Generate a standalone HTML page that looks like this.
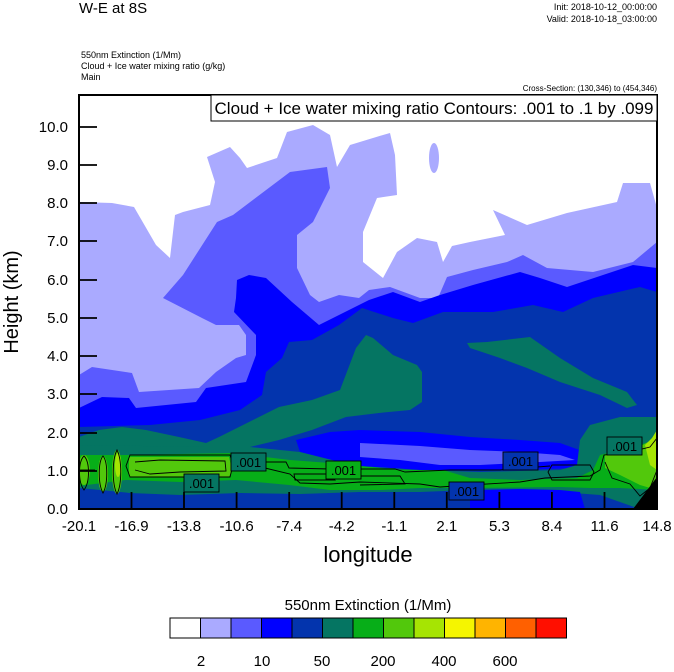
<!DOCTYPE html>
<html><head><style>
body{margin:0;background:#fff;}
svg text{font-family:"Liberation Sans",sans-serif;}
</style></head><body>
<svg width="674" height="667" viewBox="0 0 674 667" xmlns="http://www.w3.org/2000/svg">
<defs><clipPath id="c"><rect x="79" y="95" width="578" height="414"/></clipPath></defs>
<g clip-path="url(#c)">
<rect x="79" y="95" width="578" height="414" fill="#fff"/>
<!-- lavender -->
<polygon fill="#AAAAFF" points="79,202 112,203 134,207 156,245 170,258 175,215 183,212 210,205 215,182 207,157 230,147 240,158 247,168 277,158 287,132 313,125 330,135 337,167 350,145 383,135 390,133 395,155 397,195 377,198 363,232 363,262 383,278 397,252 417,238 437,242 443,262 452,246 470,242 490,238 505,235 493,210 527,225 567,213 617,202 623,183 650,183 657,208 657,509 79,509"/>
<ellipse cx="434" cy="158" rx="5" ry="15" fill="#AAAAFF"/>
<!-- 5A5AFF -->
<polygon fill="#5A5AFF" points="79,375 92,367 132,373 139,392 199,388 216,372 236,358 246,355 246,335 239,325 216,325 202,318 163,298 183,275 217,222 233,215 290,172 327,167 330,188 313,222 297,235 297,268 310,295 319,302 339,295 359,298 369,290 390,287 420,298 438,298 447,277 473,270 507,262 523,255 547,268 593,272 633,262 657,242 657,509 79,509"/>
<!-- blue -->
<polygon fill="#0000FF" points="79,408 102,397 129,398 136,408 196,402 206,388 246,382 256,355 256,335 234,312 236,298 237,280 249,275 266,278 292,302 319,325 339,315 369,300 393,292 420,302 440,295 473,285 520,272 540,278 567,287 633,265 657,268 657,509 79,509"/>
<!-- dark blue -->
<polygon fill="#0334AD" points="79,427 150,425 200,420 240,410 262,395 266,372 282,358 289,342 312,340 339,325 362,308 393,318 413,323 443,312 493,312 533,305 563,312 593,298 640,287 657,292 657,509 79,509"/>
<!-- teal diagonal + blob -->
<polygon fill="#057562" points="79,437 99,430 122,427 146,430 179,437 206,443 219,437 239,427 259,417 279,407 312,400 340,390 356,348 366,335 373,338 393,355 417,365 422,372 422,402 410,410 379,413 346,417 312,430 279,440 250,447 206,450 79,450"/>
<polygon fill="#057562" points="467,343 487,342 530,337 560,358 593,378 627,392 637,405 627,408 600,395 560,382 527,368 500,358 470,348"/>
<!-- blue band -->
<polygon fill="#0000FF" points="296,440 330,432 360,430 420,432 470,437 520,440 560,443 585,452 575,468 520,470 470,470 420,470 360,466 330,460 300,452"/>
<polygon fill="#5A5AFF" points="360,443 420,446 470,450 520,452 560,455 575,460 540,462 480,465 440,465 400,460 360,457"/>
<!-- teal lower band -->
<polygon fill="#057562" points="79,445 206,447 250,447 300,452 340,462 360,466 420,470 480,472 560,470 577,465 580,440 590,425 620,417 657,417 657,509 640,509 600,495 560,492 470,490 420,492 360,492 300,494 240,493 180,495 130,493 100,490 79,488"/>
<polygon fill="#0000FF" points="470,490 520,489 560,490 580,492 585,509 470,509"/>
<!-- greens -->
<polygon fill="#07AE18" points="79,455 126,455 232,453 290,460 330,463 400,470 443,470 470,478 520,480 577,478 593,470 600,455 620,450 657,440 657,490 620,488 590,488 560,487 470,488 420,488 380,490 330,490 289,485 236,480 180,482 126,480 79,486"/>
<polygon fill="#52C80C" points="129,457 229,457 232,470 229,477 129,477"/>
<polygon fill="#52C80C" points="605,455 630,452 657,437 657,490 640,485 620,475 605,468"/>
<ellipse cx="84" cy="470" rx="6" ry="15" fill="#52C80C"/>
<ellipse cx="103" cy="474" rx="5" ry="18" fill="#52C80C"/>
<ellipse cx="117" cy="472" rx="5" ry="22" fill="#52C80C"/>
<ellipse cx="118" cy="465" rx="3" ry="12" fill="#A6E403"/>
<polygon fill="#A6E403" points="645,445 652,438 657,430 657,470 650,465"/>
<polygon fill="#000" points="633,509 657,477 657,509"/>
<!-- contours -->
<g fill="none" stroke="#000" stroke-width="0.9">
<path d="M130,455 L230,455 L233,465 L230,477 L130,477 L126,466 Z"/>
<path d="M135,462 L160,460 L225,461 L226,471 L180,472 L150,474 L135,470"/>
<path d="M232,462 L286,462 L289,468 L330,469 L395,469 L405,472 L450,470 L500,470 L550,466"/>
<path d="M265,468 L290,474 L300,483 L330,484 L360,482 L420,484 L440,487 L470,485 L520,482 L545,478 L590,476 L600,470 L604,455 L630,452 L650,447 L657,438"/>
<path d="M294,474 L330,474 L335,480 L295,480 Z"/>
<path d="M360,476 L400,476 L405,484 L360,485"/>
<path d="M552,465 L590,465 L594,472 L590,480 L552,480 L548,472 Z"/>
<path d="M84,456 C90,462 90,482 84,490 C78,482 78,462 84,456 Z"/>
<path d="M103,456 C108,462 108,484 103,493 C98,484 98,462 103,456 Z"/>
<path d="M117,450 C122,460 122,484 117,494 C112,484 112,460 117,450 Z"/>
<path d="M605,462 L612,478 L630,484 L640,496 L650,488 L657,470"/>
<path d="M79,470 L95,470"/>
</g>
<g font-size="13" text-anchor="middle">
<rect x="231" y="453" width="35" height="18" fill="#057562" stroke="#000" stroke-width="0.9"/><text x="248.5" y="467">.001</text>
<rect x="184" y="474" width="35" height="18" fill="#057562" stroke="#000" stroke-width="0.9"/><text x="201.5" y="488">.001</text>
<rect x="326" y="461" width="35" height="18" fill="#07AE18" stroke="#000" stroke-width="0.9"/><text x="343.5" y="475">.001</text>
<rect x="449" y="482" width="35" height="18" fill="#0334AD" stroke="#000" stroke-width="0.9"/><text x="466.5" y="496">.001</text>
<rect x="503" y="452" width="35" height="18" fill="#0334AD" stroke="#000" stroke-width="0.9"/><text x="520.5" y="466">.001</text>
<rect x="607" y="437" width="35" height="18" fill="#057562" stroke="#000" stroke-width="0.9"/><text x="624.5" y="451">.001</text>
</g>
</g>
<rect x="79" y="95" width="578" height="414" fill="none" stroke="#000" stroke-width="2"/>
<!-- ticks -->
<g stroke="#000" stroke-width="1.8">
<path d="M79,471h18M79,433h18M79,394h18M79,356h18M79,318h18M79,280h18M79,241h18M79,203h18M79,165h18M79,127h18"/>
<path d="M131.5,509v-17M184,509v-17M236.6,509v-17M289.2,509v-17M341.7,509v-17M394.3,509v-17M446.8,509v-17M499.4,509v-17M551.9,509v-17M604.5,509v-17"/>
</g>
<g font-size="15" text-anchor="end">
<text x="68" y="514">0.0</text><text x="68" y="476">1.0</text><text x="68" y="438">2.0</text><text x="68" y="399">3.0</text><text x="68" y="361">4.0</text><text x="68" y="323">5.0</text><text x="68" y="285">6.0</text><text x="68" y="246">7.0</text><text x="68" y="208">8.0</text><text x="68" y="170">9.0</text><text x="68" y="132">10.0</text>
</g>
<g font-size="15" text-anchor="middle">
<text x="79" y="531">-20.1</text><text x="131.5" y="531">-16.9</text><text x="184" y="531">-13.8</text><text x="236.6" y="531">-10.6</text><text x="289.2" y="531">-7.4</text><text x="341.7" y="531">-4.2</text><text x="394.3" y="531">-1.1</text><text x="446.8" y="531">2.1</text><text x="499.4" y="531">5.3</text><text x="551.9" y="531">8.4</text><text x="604.5" y="531">11.6</text><text x="657" y="531">14.8</text>
</g>
<text x="368" y="562" font-size="22" text-anchor="middle">longitude</text>
<text transform="translate(18,302) rotate(-90)" font-size="20" text-anchor="middle">Height (km)</text>
<text x="79" y="13" font-size="15">W-E at 8S</text>
<text x="657" y="10" font-size="9" text-anchor="end">Init: 2018-10-12_00:00:00</text>
<text x="657" y="22" font-size="9" text-anchor="end">Valid: 2018-10-18_03:00:00</text>
<text x="81" y="58" font-size="9">550nm Extinction   (1/Mm)</text>
<text x="81" y="69" font-size="9">Cloud + Ice water mixing ratio   (g/kg)</text>
<text x="81" y="80" font-size="9">Main</text>
<text x="657" y="91" font-size="8" text-anchor="end">Cross-Section: (130,346) to (454,346)</text>
<rect x="211" y="95" width="446" height="26" fill="#fff" stroke="#000" stroke-width="1"/>
<text x="434" y="114" font-size="17" text-anchor="middle">Cloud + Ice water mixing ratio Contours: .001 to .1 by .099</text>
<text x="368" y="610" font-size="15" text-anchor="middle">550nm Extinction  (1/Mm)</text>
<g stroke="#000" stroke-width="1">
<rect x="170" y="618" width="30.5" height="20" fill="#FFFFFF"/>
<rect x="200.5" y="618" width="30.5" height="20" fill="#AAAAFF"/>
<rect x="231" y="618" width="30.5" height="20" fill="#5A5AFF"/>
<rect x="261.5" y="618" width="30.5" height="20" fill="#0000FF"/>
<rect x="292" y="618" width="30.5" height="20" fill="#0334AD"/>
<rect x="322.5" y="618" width="30.5" height="20" fill="#057562"/>
<rect x="353" y="618" width="30.5" height="20" fill="#07AE18"/>
<rect x="383.5" y="618" width="30.5" height="20" fill="#52C80C"/>
<rect x="414" y="618" width="30.5" height="20" fill="#A6E403"/>
<rect x="444.5" y="618" width="30.5" height="20" fill="#F5F500"/>
<rect x="475" y="618" width="30.5" height="20" fill="#FFB400"/>
<rect x="505.5" y="618" width="30.5" height="20" fill="#FF6000"/>
<rect x="536" y="618" width="30.5" height="20" fill="#FF0F00"/>
</g>
<g font-size="15" text-anchor="middle">
<text x="201" y="666">2</text><text x="262" y="666">10</text><text x="322" y="666">50</text><text x="383" y="666">200</text><text x="444" y="666">400</text><text x="505" y="666">600</text>
</g>
</svg>
</body></html>
